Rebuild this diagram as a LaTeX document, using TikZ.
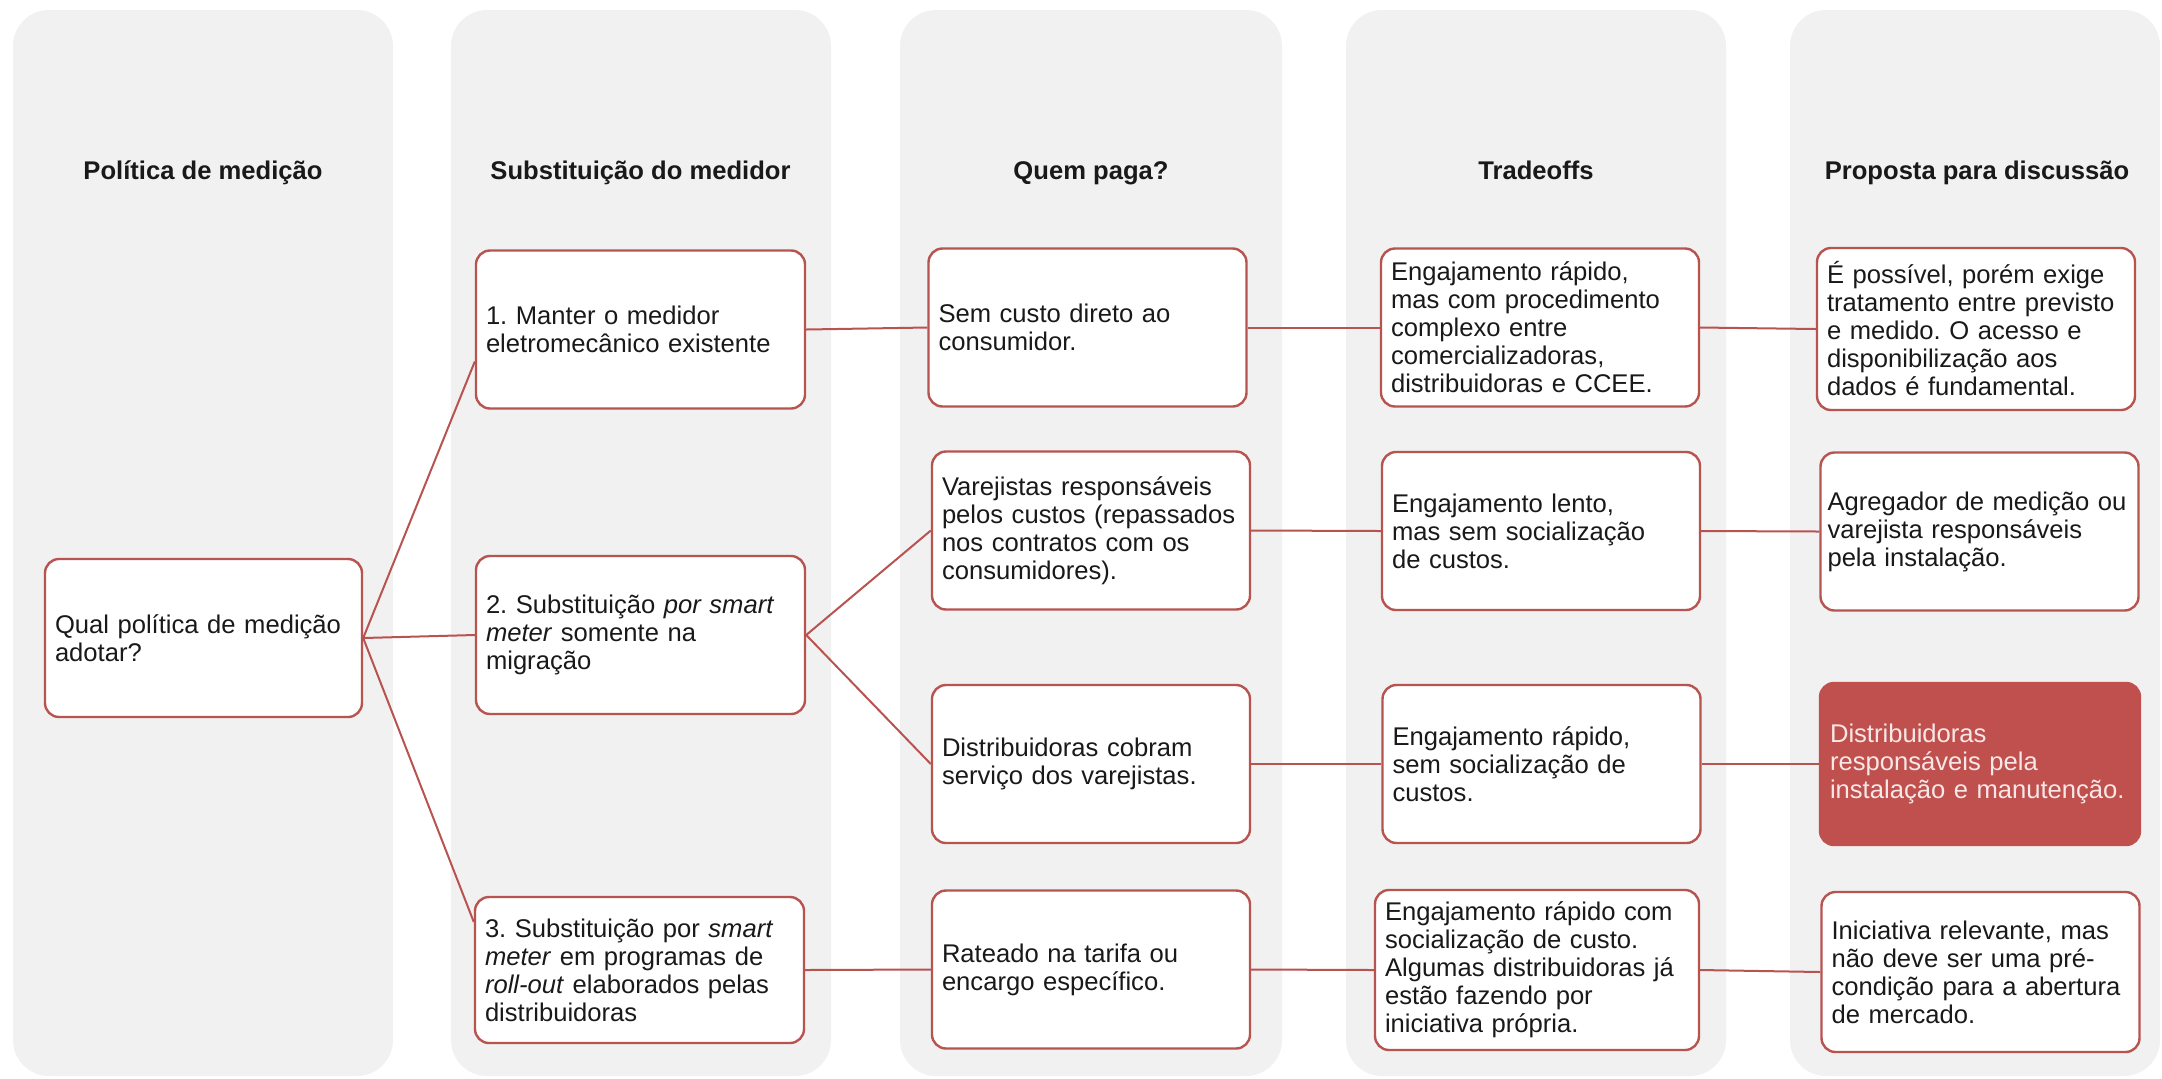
\documentclass[tikz,border=0pt]{standalone}
\usepackage{fontspec}
\setmainfont{Liberation Sans}
\definecolor{lanegray}{HTML}{F1F1F1}
\definecolor{linkred}{HTML}{B85450}
\definecolor{hotred}{HTML}{C0504D}
\definecolor{hottext}{HTML}{F7E8E8}
\tikzset{
    lane/.style={fill=lanegray, rounded corners=18pt},
    head/.style={font=\fontsize{12.8pt}{14pt}\selectfont\bfseries, anchor=base, text=black!90},
    box/.style={draw=linkred, line width=1.2pt, fill=white, rounded corners=7pt, align=left,
        inner xsep=5pt, inner ysep=0pt, text width=149pt, minimum height=79pt,
        text=black!90, font=\fontsize{12.8pt}{14pt}\selectfont\frenchspacing},
    wide/.style={text width=154.5pt},
    hotbox/.style={fill=hotred, draw=hotred, text=hottext},
    link/.style={draw=linkred, line width=1pt}
}
\begin{document}
\begin{tikzpicture}[x=0.5pt, y=-0.5pt]
                \useasboundingbox (0,0) rectangle (2162,1078);
                \fill[lane] (13,10) rectangle (393,1076);
                \fill[lane] (451,10) rectangle (831,1076);
                \fill[lane] (900,10) rectangle (1282,1076);
                \fill[lane] (1346,10) rectangle (1726,1076);
                \fill[lane] (1790,10) rectangle (2160,1076);
                \node[head] (hPolitica) at (203,179) {Política de medição};
                \node[head] (hSubst) at (640.5,179) {Substituição do medidor};
                \node[head] (hPaga) at (1091,179) {Quem paga?};
                \node[head] (hTrade) at (1536,179) {Tradeoffs};
                \node[head] (hProp) at (1977,179) {Proposta para discussão};
                \node[box, text width=148.5pt] (qual) at (203.5,638) {Qual política de medição\\adotar?};
                \node[box, wide] (subst1) at (640.5,329.5) {1. Manter o medidor\\eletromecânico existente};
                \node[box, wide] (subst2) at (640.5,635) {2. Substituição \textit{por smart}\\\textit{meter} somente na\\migração};
                \node[box, wide, minimum height=73pt] (subst3) at (639.5,970) {3. Substituição por \textit{smart}\\\textit{meter} em programas de\\\textit{roll-out} elaborados pelas\\distribuidoras};
                \node[box] (paga1) at (1087.5,327.5) {Sem custo direto ao\\consumidor.};
                \node[box] (paga2) at (1091,530.5) {Varejistas responsáveis\\pelos custos (repassados\\nos contratos com os\\consumidores).};
                \node[box] (paga3) at (1091,764) {Distribuidoras cobram\\serviço dos varejistas.};
                \node[box] (paga4) at (1091,969.5) {Rateado na tarifa ou\\encargo específico.};
                \node[box] (trade1) at (1540,327.5) {Engajamento rápido,\\mas com procedimento\\complexo entre\\comercializadoras,\\distribuidoras e CCEE.};
                \node[box] (trade2) at (1541,531) {Engajamento lento,\\mas sem socialização\\de custos.};
                \node[box] (trade3) at (1541.5,764) {Engajamento rápido,\\sem socialização de\\custos.};
                \node[box, text width=152pt, minimum height=80pt] (trade4) at (1537,970) {Engajamento rápido com\\socialização de custo.\\Algumas distribuidoras já\\estão fazendo por\\iniciativa própria.};
                \node[box, minimum height=81pt] (prop1) at (1976,329) {É possível, porém exige\\tratamento entre previsto\\e medido. O acesso e\\disponibilização aos\\dados é fundamental.};
                \node[box, inner xsep=3.5pt, text width=152pt] (prop2) at (1979.5,531.5) {Agregador de medição ou\\varejista responsáveis\\pela instalação.};
                \node[box, hotbox, text width=150pt, minimum height=81pt] (prop3) at (1980,764) {Distribuidoras\\responsáveis pela\\instalação e manutenção.};
                \node[box, minimum height=80pt] (prop4) at (1980.5,972) {Iniciativa relevante, mas\\não deve ser uma pré-\\condição para a abertura\\de mercado.};
                \draw[link] (qual.east) -- ([yshift=-16pt]subst1.west);
                \draw[link] (qual.east) -- (subst2.west);
                \draw[link] (qual.east) -- ([yshift=24pt]subst3.west);
                \draw[link] (subst1.east) -- (paga1.west);
                \draw[link] (subst2.east) -- (paga2.west);
                \draw[link] (subst2.east) -- (paga3.west);
                \draw[link] (subst3.east) -- (paga4.west);
                \draw[link] (paga1.east) -- (trade1.west);
                \draw[link] (paga2.east) -- (trade2.west);
                \draw[link] (paga3.east) -- (trade3.west);
                \draw[link] (paga4.east) -- (trade4.west);
                \draw[link] (trade1.east) -- (prop1.west);
                \draw[link] (trade2.east) -- (prop2.west);
                \draw[link] (trade3.east) -- (prop3.west);
                \draw[link] (trade4.east) -- (prop4.west);
            \end{tikzpicture}
\end{document}
